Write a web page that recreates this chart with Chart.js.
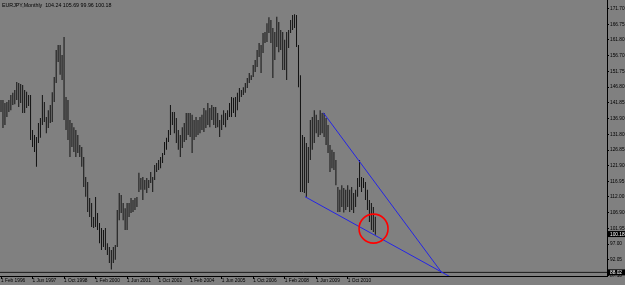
<!DOCTYPE html>
<html><head><meta charset="utf-8">
<script src="https://cdn.jsdelivr.net/npm/chart.js@4.4.1/dist/chart.umd.min.js"></script>
<style>html,body{margin:0;padding:0;background:#808080;overflow:hidden}canvas{display:block}</style>
</head><body>
<canvas id="c" width="625" height="285"></canvas>
<script>
// ---- data (monthly bars, index 0 = Feb 1996) ----
const symbol = 'EURJPY,Monthly';
const lastBarOHLC = [104.24, 105.69, 99.96, 100.18];
const high = [
142.7,142.7,141.8,142.1,142.7,144.3,145.0,145.9,148.4,148.1,147.8,147.5,145.9,145.3,144.3,144.3,
133.2,131.6,131.0,135.4,137.0,144.3,142.1,137.3,139.5,141.1,145.2,150.0,158.6,160.2,160.2,157.0,
162.7,143.7,142.7,136.4,135.4,134.1,133.2,131.6,128.4,127.8,124.6,118.3,116.7,111.6,110.0,105.6,
111.9,106.9,103.7,102.1,101.5,102.1,97.3,96.1,95.1,96.1,96.7,107.8,113.2,112.6,110.0,108.4,
110.0,110.0,111.6,111.0,111.6,111.9,119.6,118.0,118.3,117.3,118.0,117.3,119.9,118.3,122.1,122.7,
123.7,124.6,125.9,129.4,130.7,133.2,141.1,138.9,138.9,137.0,133.2,131.6,134.1,135.4,138.6,138.6,
138.6,138.0,136.4,137.3,136.4,137.3,138.0,140.2,139.5,141.8,140.2,141.1,140.5,140.5,138.6,136.4,
138.0,139.5,138.6,139.5,141.8,143.7,143.4,143.7,145.0,146.5,145.9,146.8,148.1,149.7,151.3,150.6,
153.8,155.4,158.6,160.8,160.2,164.0,164.3,167.1,169.0,168.1,165.6,164.3,169.1,167.5,164.9,164.3,
161.8,164.3,164.9,168.1,169.7,169.96,169.7,160.2,150.6,131.6,131.0,129.1,127.8,136.4,137.3,139.5,
138.0,136.4,139.5,138.6,138.6,137.0,134.8,128.4,126.9,126.2,123.7,115.1,114.2,115.7,114.8,114.2,
115.7,114.2,115.1,113.2,114.2,118.0,123.7,118.3,118.0,116.7,114.2,111.0,110.0,108.8,105.69
];
const low = [
138.9,133.8,134.8,137.3,138.9,139.5,141.1,141.4,142.7,140.5,141.8,138.6,138.6,140.2,140.8,130.0,
127.8,126.2,121.5,129.1,130.7,134.8,135.7,132.2,133.8,135.4,135.7,142.1,148.1,154.8,150.7,149.1,
136.4,133.2,130.0,124.6,127.8,126.2,124.6,125.9,124.6,121.5,115.1,112.0,107.2,105.6,102.4,102.1,
102.4,101.5,97.3,95.1,96.1,95.1,93.5,91.0,88.97,91.0,92.0,96.1,104.6,106.9,104.6,101.5,
101.5,105.6,106.9,107.2,107.8,108.8,113.5,114.2,111.0,114.2,113.2,114.8,116.4,113.5,117.3,119.9,
120.5,121.1,122.7,125.3,126.9,129.4,131.6,134.8,132.2,129.1,126.9,124.6,127.5,129.4,130.0,131.6,
131.0,125.9,130.0,131.0,131.6,132.2,133.2,132.6,133.8,134.8,134.1,136.4,134.8,133.8,134.1,131.0,
133.2,134.8,134.1,136.4,137.3,137.3,138.6,137.3,139.5,142.1,143.7,144.3,145.0,146.5,148.1,149.1,
150.0,151.6,153.2,156.4,151.3,157.6,160.8,161.1,164.0,160.8,149.7,155.4,159.5,157.9,158.6,152.2,
152.2,149.1,159.2,164.0,164.9,165.6,159.5,146.8,113.5,113.5,113.2,112.0,116.4,123.7,126.9,129.1,
132.2,131.0,131.6,132.2,131.0,128.4,125.9,119.9,121.1,120.5,115.7,107.2,107.2,108.8,107.0,107.8,
108.8,107.2,107.8,106.9,108.8,112.0,115.1,113.5,114.8,111.0,107.8,104.0,101.5,100.8,99.96
];
const priceTicks = [171.70,166.75,161.80,156.70,151.75,146.80,141.85,136.90,131.80,126.85,121.90,116.95,112.00,106.90,101.95,97.00,92.05,87.10];
const xTickLabels = ['1 Feb 1996','1 Jun 1997','1 Oct 1998','1 Feb 2000','1 Jun 2001','1 Oct 2002','1 Feb 2004','1 Jun 2005','1 Oct 2006','1 Feb 2008','1 Jun 2009','1 Oct 2010'];
const xTickMonth = [0,16,32,48,64,80,96,112,128,144,160,176];
const upperTrend = [[163.6,138.7],[223.9,87.8]];
const lowerTrend = [[154.3,112.03],[227.9,86.65]];
const levelLine = 88.02;
const circleMark = [189.1, 101.9];
const xRange = [-0.51, 307.6];
const yRange = [86.87, 174.45];

const FONT = 'Liberation Sans';
const deco = {
  id: 'deco',
  beforeDraw(chart) {
    const c = chart.ctx; c.save();
    c.fillStyle = '#808080'; c.fillRect(0, 0, chart.width, chart.height);
    c.restore();
  },
  afterDraw(chart) {
    const c = chart.ctx, ys = chart.scales.y, a = chart.chartArea;
    c.save();
    c.font = '4.8px "' + FONT + '"';
    c.textBaseline = 'middle';
    [lastBarOHLC[3], levelLine].forEach(v => {
      const py = ys.getPixelForValue(v);
      c.fillStyle = '#000'; c.fillRect(a.right + 1, py - 3, chart.width - a.right - 1, 6);
      c.fillStyle = '#fff'; c.fillText(v.toFixed(2), a.right + 3, py + 0.3);
    });
    c.font = '5.3px "' + FONT + '"';
    c.fillStyle = '#000'; c.textBaseline = 'alphabetic';
    c.fillText(symbol + '  ' + lastBarOHLC.map(v => v.toFixed(2)).join(' '), 2, 7);
    c.restore();
  }
};

const ds = [
  { type: 'bar', data: high.map((h, i) => ({ x: i, y: [low[i], h] })),
    backgroundColor: '#111', borderWidth: 0, barThickness: 1, inflateAmount: 0, grouped: false, order: 5 },
  { type: 'line', data: [{ x: xRange[0], y: levelLine }, { x: xRange[1], y: levelLine }],
    borderColor: '#1a1a1a', borderWidth: 1, pointRadius: 0, order: 3 },
  { type: 'line', data: upperTrend.map(p => ({ x: p[0], y: p[1] })),
    borderColor: '#2424e6', borderWidth: 1, pointRadius: 0, order: 2 },
  { type: 'line', data: lowerTrend.map(p => ({ x: p[0], y: p[1] })),
    borderColor: '#2424e6', borderWidth: 1, pointRadius: 0, order: 2 },
  { type: 'scatter', data: [{ x: circleMark[0], y: circleMark[1] }],
    pointRadius: 14.5, pointStyle: 'circle', backgroundColor: 'rgba(0,0,0,0)',
    borderColor: '#ff0000', borderWidth: 1.6, order: 0, clip: false }
];

new Chart(document.getElementById('c'), {
  type: 'bar',
  data: { datasets: ds },
  plugins: [deco],
  options: {
    responsive: false, animation: false, devicePixelRatio: 1,
    layout: { padding: 0, autoPadding: false },
    plugins: { legend: { display: false }, tooltip: { enabled: false } },
    scales: {
      x: {
        type: 'linear', min: xRange[0], max: xRange[1], offset: false,
        grid: { offset: false, drawOnChartArea: false, drawTicks: true, tickLength: 3, color: '#000' },
        border: { display: true, color: '#000', width: 1 },
        afterBuildTicks: s => { s.ticks = xTickMonth.map(v => ({ value: v })); },
        ticks: { autoSkip: false, maxRotation: 0, align: 'start', padding: -1, color: '#000',
          font: { family: FONT, size: 4.8 },
          callback: (v) => xTickLabels[xTickMonth.indexOf(v)] },
        afterFit: s => { s.height = 9; s.paddingLeft = 0; s.paddingRight = 0; }
      },
      y: {
        type: 'linear', position: 'right', min: yRange[0], max: yRange[1],
        grid: { drawOnChartArea: false, drawTicks: true, tickLength: 2, color: '#000' },
        border: { display: true, color: '#000', width: 1 },
        afterBuildTicks: s => { s.ticks = priceTicks.map(v => ({ value: v })); },
        ticks: { autoSkip: false, padding: 1, color: '#000', font: { family: FONT, size: 4.8 },
          callback: v => Number(v).toFixed(2) },
        afterFit: s => { s.width = 18; s.paddingTop = 0; s.paddingBottom = 0; }
      }
    }
  }
});
</script>
</body></html>
